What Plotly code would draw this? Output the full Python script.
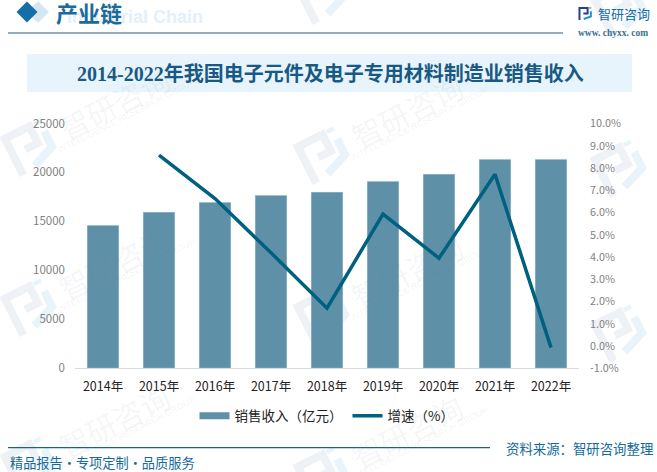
import math
import plotly.graph_objects as go

# data
years = ["2014年", "2015年", "2016年", "2017年", "2018年", "2019年", "2020年", "2021年", "2022年"]
revenue = [14620, 15950, 16970, 17680, 18000, 19110, 19830, 21360, 21360]
growth = [None, 8.58, 6.63, 4.19, 1.7, 5.93, 3.95, 7.72, -0.07]
left_ticks = [0, 5000, 10000, 15000, 20000, 25000]
right_ticks = [-1, 0, 1, 2, 3, 4, 5, 6, 7, 8, 9, 10]
right_labels = ["-1.0%", "0.0%", "1.0%", "2.0%", "3.0%", "4.0%", "5.0%", "6.0%", "7.0%", "8.0%", "9.0%", "10.0%"]

W, H = 657, 472
CJK = "Noto Sans CJK SC"
SERIF = "Liberation Serif, Noto Sans CJK SC"
BAR = "#5e90a8"
LINE = "#00607f"
BLUE = "#146a9c"


def px(x):
    return x / W


def py(y):
    return 1 - y / H


def note(text, x, y, size, color, family=CJK, angle=0, anchor="center"):
    return dict(text=text, x=px(x), y=py(y), xref="paper", yref="paper", showarrow=False,
                xanchor=anchor, yanchor="middle", textangle=angle,
                font=dict(size=size, color=color, family=family))


def box(x0, y0, x1, y1, color):
    return dict(type="rect", xref="paper", yref="paper", x0=px(x0), x1=px(x1), y0=py(y0), y1=py(y1),
                fillcolor=color, line_width=0, layer="below")


def rule(x0, x1, y):
    return dict(type="line", xref="paper", yref="paper", x0=px(x0), x1=px(x1), y0=py(y), y1=py(y),
                line=dict(color="#1f6088", width=1.2), layer="below")


def diamond(cx, cy, r, color):
    pts = [(cx - r, cy), (cx, cy - r), (cx + r, cy), (cx, cy + r)]
    path = "M" + " L".join(f"{px(a):.5f} {py(b):.5f}" for a, b in pts) + " Z"
    return dict(type="path", xref="paper", yref="paper", path=path, fillcolor=color, line_width=0, layer="below")


# company logo, two bent strokes, used in the header and in the watermark
def logo(cx, cy, r, angle, c1, c2, width):
    dark = [[(-0.85, 1.0), (-0.85, -0.85), (0.4, -0.85), (0.4, 0.0), (-0.25, 0.0)]]
    light = [[(0.9, -0.35), (0.9, 0.45), (-0.2, 0.85)], [(0.8, -0.95), (0.8, -0.75)]]
    a = math.radians(angle)
    out = []
    for strokes, c in ((dark, c1), (light, c2)):
        for s in strokes:
            pts = [(cx + r * (u * math.cos(a) - v * math.sin(a)), cy + r * (u * math.sin(a) + v * math.cos(a))) for u, v in s]
            path = "M" + " L".join(f"{px(p):.5f} {py(q):.5f}" for p, q in pts)
            out.append(dict(type="path", xref="paper", yref="paper", path=path,
                            line=dict(color=c, width=width), layer="below"))
    return out


fig = go.Figure()

fig.add_trace(go.Bar(x=years, y=revenue, marker_color=BAR, showlegend=False, yaxis="y"))
# legend entry for the bars, a thick line gives the wide swatch
fig.add_trace(go.Scatter(x=years[:1], y=[None], mode="lines", name="销售收入（亿元）",
                         line=dict(color=BAR, width=7), yaxis="y"))
fig.add_trace(go.Scatter(x=years, y=growth, mode="lines", name="增速（%）",
                         line=dict(color=LINE, width=3.5), yaxis="y2"))

shapes = []
annotations = []

# watermark tiles, the text only where it lands on the page
tiles = [(30, 147), (30, 307), (30, 465), (323, -5), (323, 155), (323, 315), (323, 475),
         (620, 8), (620, 168), (620, 333)]
for tx, ty in tiles:
    shapes += logo(tx, ty, 22, -27, "#eef1f6", "#e8f4fa", 8)
    if tx < 600 and ty > 50:
        annotations.append(note("智研咨询", tx + 84, ty - 44, 30, "rgba(110,120,135,0.07)", angle=-27))
        annotations.append(note("INTELLIGENCE RESEARCH GROUP", tx + 96, ty - 31, 9, "rgba(110,120,135,0.09)",
                                family="Liberation Sans", angle=-27))

# header and footer
shapes += [
    diamond(38, 12, 11, "#d5e6f0"),
    diamond(27, 12, 10.5, "#146ea8"),
    rule(8, 563, 33),
    box(27, 54, 632, 92, "#e8f4fb"),
    rule(8, 490, 447.7),
]
shapes += logo(585, 13.5, 6.5, 0, "#27408b", "#2a8fd0", 2)

annotations += [
    note("<b>Industrial Chain</b>", 65, 17, 18, "#e3f0fa", family="Liberation Sans", anchor="left"),
    note("<b>产业链</b>", 54, 14, 22, "#1c6a9c", family=SERIF, anchor="left"),
    note("智研咨询", 624, 13, 13, "#136ba6"),
    note("<b>www. chyxx. com</b>", 612.5, 33, 9.5, "#3a6f92", family="Liberation Serif"),
    note("<b>2014-2022年我国电子元件及电子专用材料制造业销售收入</b>", 330, 74, 20, "#185a84", family=SERIF),
    note("精品报告·专项定制·品质服务", 102, 462, 13.2, BLUE),
    note("资料来源：智研咨询整理", 579.5, 448, 13.4, BLUE),
]

fig.update_layout(
    width=W,
    height=H,
    autosize=False,
    # autoexpand off: the page-edge annotations must not shrink the paper area
    margin=dict(l=0, r=0, t=0, b=0, autoexpand=False),
    paper_bgcolor="white",
    plot_bgcolor="rgba(0,0,0,0)",
    font=dict(family=CJK, size=12, color="#222222"),
    bargap=0.43,
    shapes=shapes,
    annotations=annotations,
    legend=dict(orientation="h", x=px(327), y=py(416), xanchor="center", yanchor="middle",
                itemwidth=30, font=dict(size=13.5, color="#222222"), bgcolor="rgba(0,0,0,0)"),
    xaxis=dict(domain=[px(75), px(579)], type="category", showline=True, linecolor="#d9d9d9", linewidth=1,
               ticks="", showgrid=False, tickfont=dict(size=12.5, color="#222222"), anchor="y",
               ticklabelstandoff=7),
    yaxis=dict(domain=[py(368.3), py(123.5)], range=[0, 25000], tickvals=left_ticks, tickformat="d",
               showgrid=False, zeroline=False, ticks="", tickfont=dict(size=11.5, color="#7f7f7f"),
               ticklabelstandoff=9),
    yaxis2=dict(overlaying="y", side="right", range=[-1, 10], tickvals=right_ticks, ticktext=right_labels,
                showgrid=False, zeroline=False, ticks="", tickfont=dict(size=10.8, color="#7f7f7f"),
                ticklabelstandoff=10),
)

# drop the browser's default page margin so the figure sits at 0,0
fig.write_html("out.html", config={"displayModeBar": False},
               post_script="document.body.style.margin='0';")
